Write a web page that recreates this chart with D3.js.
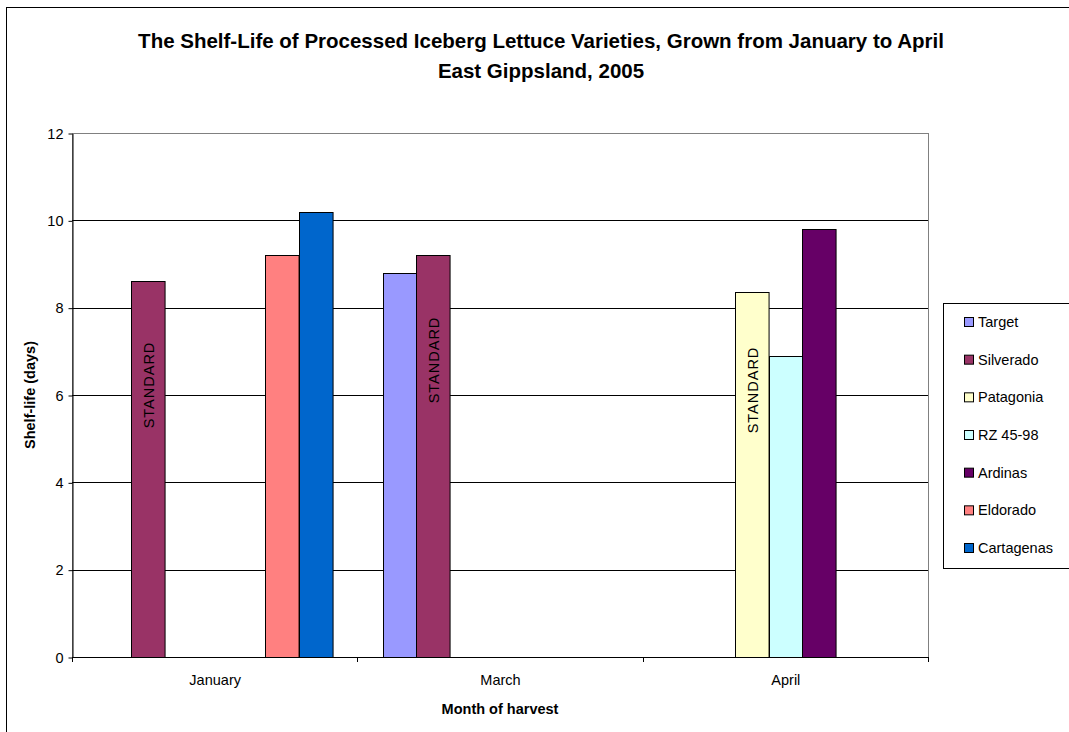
<!DOCTYPE html>
<html>
<head>
<meta charset="utf-8">
<script src="https://cdn.jsdelivr.net/npm/d3@7"></script>
<style>
  html, body { margin: 0; padding: 0; background: #fff; }
  svg { display: block; font-family: "Liberation Sans", Arial, sans-serif; }
</style>
</head>
<body>
<svg id="chart" width="1069" height="732"></svg>
<script>
// Harvest months (categories)
const months = ["January", "March", "April"];

// Variety names in legend order
const varieties = ["Target", "Silverado", "Patagonia", "RZ 45-98", "Ardinas", "Eldorado", "Cartagenas"];

// Shelf-life in days per variety, one value per month (null = not grown that month)
const target     = [null, 8.8, null];
const silverado  = [8.6, 9.2, null];
const patagonia  = [null, null, 8.35];
const rz4598     = [null, null, 6.9];
const ardinas    = [null, null, 9.8];
const eldorado   = [9.2, null, null];
const cartagenas = [10.2, null, null];

// Y axis tick values
const yTicks = [0, 2, 4, 6, 8, 10, 12];

// The reference ("STANDARD") variety for each month
const standardMonths    = ["January", "March", "April"];
const standardVarieties = ["Silverado", "Silverado", "Patagonia"];

const colors = ["#9999FF", "#993366", "#FFFFCC", "#CCFFFF", "#660066", "#FF8080", "#0066CC"];
const seriesValues = [target, silverado, patagonia, rz4598, ardinas, eldorado, cartagenas];

const svg = d3.select("#chart");

// Outer chart frame
svg.append("rect")
  .attr("x", 6.5).attr("y", 7.5)
  .attr("width", 1075).attr("height", 740)
  .attr("fill", "#fff").attr("stroke", "#000").attr("stroke-width", 1);

const plot = { left: 72, right: 928, top: 133, bottom: 657 };

const x = d3.scaleBand().domain(months).range([plot.left, plot.right]).padding(0);
const xs = d3.scaleBand().domain(varieties).range([0, x.bandwidth()])
  .paddingInner(0).paddingOuter(0.75);
const y = d3.scaleLinear().domain([0, 12]).range([plot.bottom, plot.top]);

// Plot area border
svg.append("rect")
  .attr("x", plot.left + 0.5).attr("y", y(12) + 0.5)
  .attr("width", plot.right - plot.left).attr("height", plot.bottom - y(12))
  .attr("fill", "#fff").attr("stroke", "#808080").attr("stroke-width", 1);

// Horizontal gridlines
svg.append("g").selectAll("line")
  .data(yTicks.filter(d => d > 0 && d < 12))
  .join("line")
  .attr("x1", plot.left).attr("x2", plot.right)
  .attr("y1", d => Math.round(y(d)) + 0.5).attr("y2", d => Math.round(y(d)) + 0.5)
  .attr("stroke", "#000").attr("stroke-width", 1);

// Bars
const barData = [];
varieties.forEach((v, si) => {
  months.forEach((m, mi) => {
    const val = seriesValues[si][mi];
    if (val != null) barData.push({ variety: v, month: m, value: val, color: colors[si] });
  });
});

svg.append("g").selectAll("rect")
  .data(barData)
  .join("rect")
  .attr("x", d => Math.round(x(d.month) + xs(d.variety)) + 0.5)
  .attr("y", d => Math.round(y(d.value)) + 0.5)
  .attr("width", xs.bandwidth())
  .attr("height", d => Math.round(y(0)) - Math.round(y(d.value)))
  .attr("fill", d => d.color)
  .attr("stroke", "#000").attr("stroke-width", 1);

// "STANDARD" labels inside the reference bars
const stdData = standardMonths.map((m, i) => {
  const v = standardVarieties[i];
  const si = varieties.indexOf(v);
  return { month: m, variety: v, value: seriesValues[si][months.indexOf(m)] };
});
svg.append("g").selectAll("text")
  .data(stdData)
  .join("text")
  .attr("transform", d => {
    const cx = x(d.month) + xs(d.variety) + xs.bandwidth() / 2 + 1.5;
    const cy = [385, 360, 390][stdData.indexOf(d)];
    return `translate(${cx},${cy}) rotate(-90)`;
  })
  .attr("text-anchor", "middle")
  .attr("dominant-baseline", "central")
  .attr("font-size", "14.5px")
  .attr("letter-spacing", "1px")
  .attr("fill", "#000")
  .text("STANDARD");

// Y axis
const yAxis = d3.axisLeft(y).tickValues(yTicks).tickSize(4).tickPadding(5).tickSizeOuter(0);
const gy = svg.append("g").attr("transform", `translate(${plot.left + 0.5},0.5)`).call(yAxis);
gy.select(".domain").attr("stroke", "#000");
gy.selectAll(".tick line").attr("stroke", "#000");
gy.selectAll(".tick text").attr("font-size", "14.5px").attr("fill", "#000")
  .attr("font-family", "Liberation Sans, Arial, sans-serif");

// X axis: category labels centred, tick marks at category boundaries
const xAxis = d3.axisBottom(x).tickSize(0).tickPadding(17);
const gx = svg.append("g").attr("transform", `translate(0.5,${plot.bottom + 0.5})`).call(xAxis);
gx.select(".domain").remove();
gx.selectAll(".tick text").attr("font-size", "14.5px").attr("fill", "#000")
  .attr("font-family", "Liberation Sans, Arial, sans-serif");

const boundaries = months.map(m => x(m)).concat([x(months[months.length - 1]) + x.bandwidth()]);
svg.append("line")
  .attr("x1", plot.left).attr("x2", plot.right)
  .attr("y1", plot.bottom + 0.5).attr("y2", plot.bottom + 0.5)
  .attr("stroke", "#000");
svg.append("g").selectAll("line")
  .data(boundaries)
  .join("line")
  .attr("x1", d => Math.round(d) + 0.5).attr("x2", d => Math.round(d) + 0.5)
  .attr("y1", plot.bottom).attr("y2", plot.bottom + 5)
  .attr("stroke", "#000");

// Titles
const title = svg.append("text")
  .attr("text-anchor", "middle")
  .attr("font-size", "20.5px").attr("font-weight", "bold").attr("fill", "#000");
title.append("tspan").attr("x", 541).attr("y", 48)
  .text("The Shelf-Life of Processed Iceberg Lettuce Varieties, Grown from January to April");
title.append("tspan").attr("x", 541).attr("y", 78)
  .text("East Gippsland, 2005");

svg.append("text")
  .attr("transform", `translate(35,${(plot.top + plot.bottom) / 2}) rotate(-90)`)
  .attr("text-anchor", "middle")
  .attr("font-size", "14.5px").attr("font-weight", "bold").attr("fill", "#000")
  .text("Shelf-life (days)");

svg.append("text")
  .attr("x", (plot.left + plot.right) / 2).attr("y", 714)
  .attr("text-anchor", "middle")
  .attr("font-size", "14.5px").attr("font-weight", "bold").attr("fill", "#000")
  .text("Month of harvest");

// Legend
const legend = svg.append("g");
legend.append("rect")
  .attr("x", 943.5).attr("y", 303.5)
  .attr("width", 140).attr("height", 265)
  .attr("fill", "#fff").attr("stroke", "#000");
const rowY = d3.scalePoint().domain(varieties).range([322, 548]);
const items = legend.selectAll("g.item")
  .data(varieties)
  .join("g").attr("class", "item")
  .attr("transform", d => `translate(0,${rowY(d)})`);
items.append("rect")
  .attr("x", 964.5).attr("y", -4.5)
  .attr("width", 9).attr("height", 9)
  .attr("fill", (d, i) => colors[i]).attr("stroke", "#000");
items.append("text")
  .attr("x", 978).attr("y", 0)
  .attr("dominant-baseline", "central")
  .attr("font-size", "14.5px").attr("fill", "#000")
  .text(d => d);
</script>
</body>
</html>
